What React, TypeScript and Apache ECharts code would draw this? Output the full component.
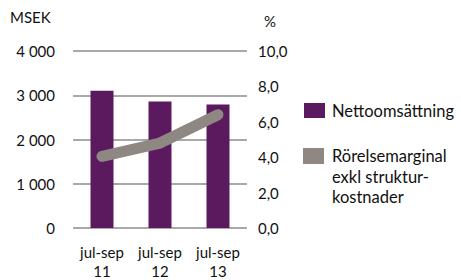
import React, { useEffect, useRef } from "react";
import * as echarts from "echarts";

const categories = ["jul-sep\n11", "jul-sep\n12", "jul-sep\n13"];
const nettoomsattning = [3100, 2860, 2790];
const rorelsemarginal = [4.05, 4.8, 6.4];
const leftTicks = { min: 0, max: 4000, interval: 1000 };
const rightTicks = { min: 0, max: 10, interval: 2 };

const PURPLE = "#5c1a5e";
const GREY = "#8e8782";
const FONT = "Lato";

export default function App() {
  const ref = useRef<HTMLDivElement>(null);
  useEffect(() => {
    const chart = echarts.init(ref.current!, null, { renderer: "svg" });
    chart.setOption({
      animation: false,
      textStyle: { fontFamily: FONT },
      grid: { left: 73, top: 51, width: 174, height: 179, containLabel: false },
      xAxis: {
        type: "category",
        data: categories,
        axisLine: { show: false },
        axisTick: { show: false },
        axisLabel: {
          color: "#111",
          fontSize: 15,
          fontFamily: FONT,
          lineHeight: 19,
          margin: 14,
        },
      },
      yAxis: [
        {
          type: "value",
          ...leftTicks,
          axisLine: { show: false },
          axisTick: { show: false },
          splitLine: { lineStyle: { color: "#8c8c8c", width: 1.5 } },
          axisLabel: {
            color: "#111",
            fontSize: 15,
            fontFamily: FONT,
            margin: 18,
            formatter: (v: number) => String(v).replace(/\B(?=(\d{3})+(?!\d))/g, " "),
          },
        },
        {
          type: "value",
          ...rightTicks,
          position: "right",
          axisLine: { show: false },
          axisTick: { show: false },
          splitLine: { show: false },
          axisLabel: {
            color: "#111",
            fontSize: 15,
            fontFamily: FONT,
            margin: 11,
            formatter: (v: number) => v.toFixed(1).replace(".", ","),
          },
        },
      ],
      series: [
        {
          name: "Nettoomsättning",
          type: "bar",
          data: nettoomsattning,
          barWidth: 23,
          itemStyle: { color: PURPLE },
          z: 2,
        },
        {
          name: "Rörelsemarginal exkl strukturkostnader",
          type: "line",
          yAxisIndex: 1,
          data: rorelsemarginal,
          symbol: "none",
          lineStyle: { color: GREY, width: 11, cap: "round", join: "round" },
          z: 3,
        },
      ],
      graphic: [
        { type: "text", left: 10, top: 9, style: { text: "MSEK", fontSize: 15, fontFamily: FONT, fill: "#111" } },
        { type: "text", left: 264, top: 13, style: { text: "%", fontSize: 15, fontFamily: FONT, fill: "#111" } },
        { type: "rect", shape: { x: 304, y: 103, width: 21, height: 15 }, style: { fill: PURPLE } },
        { type: "text", left: 332, top: 102, style: { text: "Nettoomsättning", fontSize: 16.5, fontFamily: FONT, fill: "#111" } },
        { type: "rect", shape: { x: 303, y: 148, width: 21, height: 16 }, style: { fill: GREY } },
        {
          type: "text",
          left: 332,
          top: 146,
          style: {
            text: "Rörelsemarginal\nexkl struktur-\nkostnader",
            fontSize: 16.5,
            lineHeight: 20.5,
            fontFamily: FONT,
            fill: "#111",
          },
        },
      ],
    });
    return () => chart.dispose();
  }, []);
  return (
    <div
      ref={ref}
      style={{ position: "fixed", left: 0, top: 0, width: 461, height: 280, background: "#fff" }}
    />
  );
}
